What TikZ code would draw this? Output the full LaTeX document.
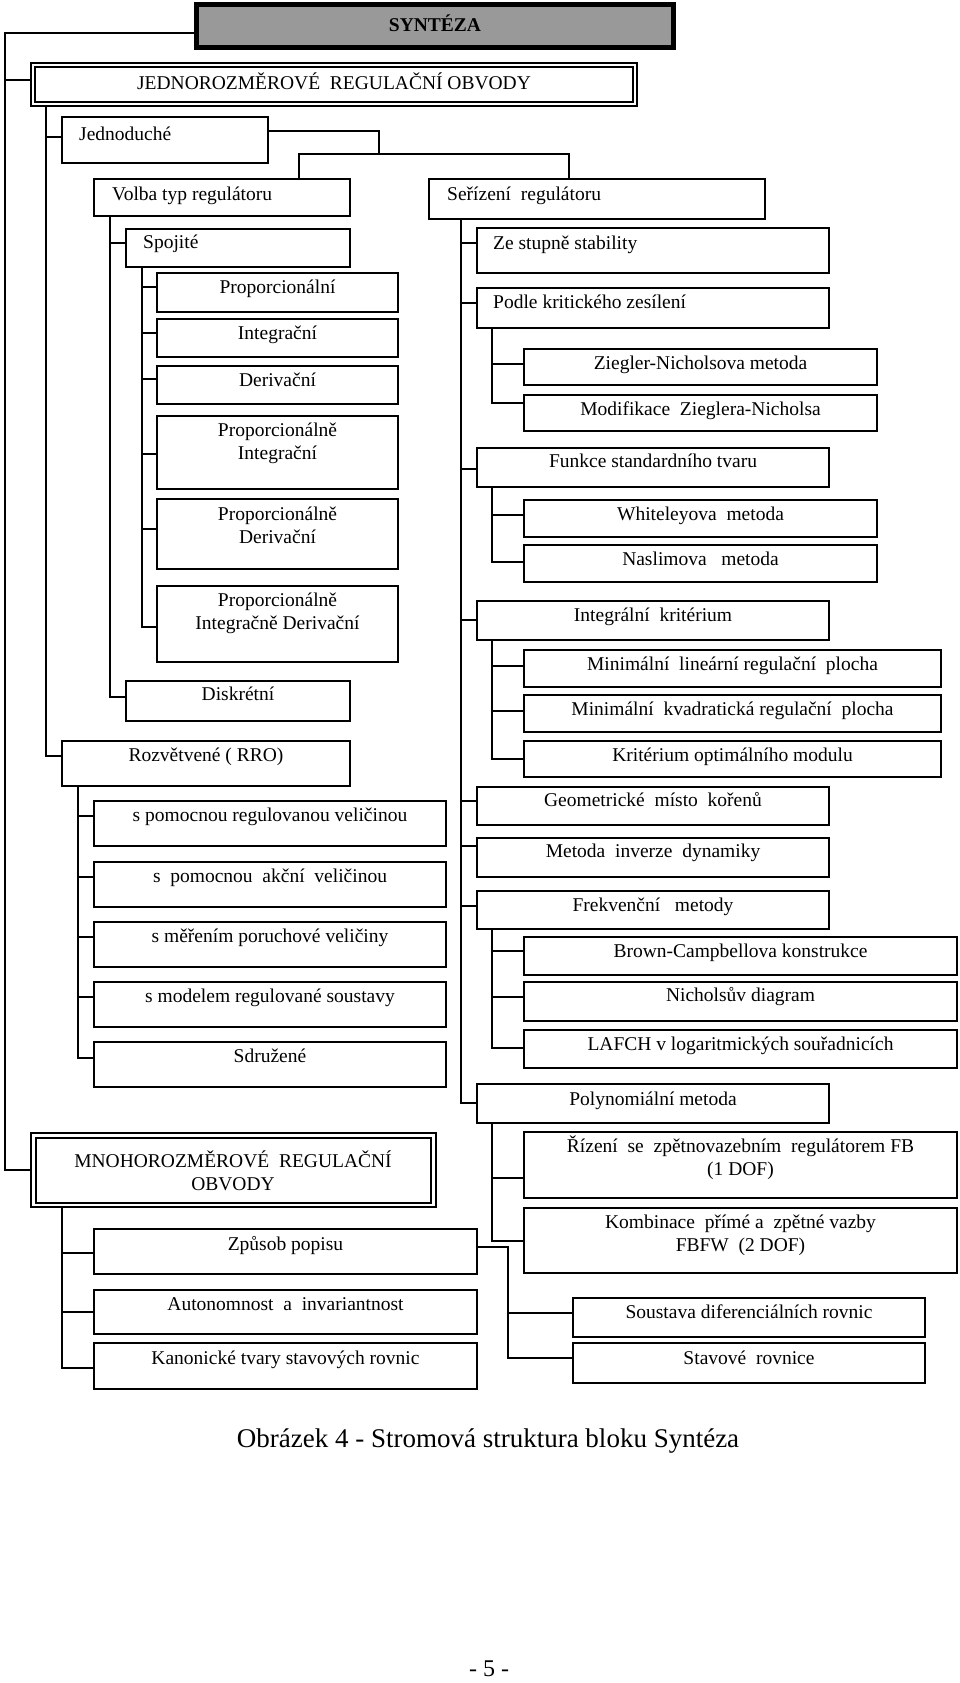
\documentclass[tikz,border=0pt]{standalone}
\usepackage{fontspec}
\setmainfont{Liberation Serif}
\definecolor{syntgray}{RGB}{153,153,153}
\pgfdeclarelayer{bg}
\pgfsetlayers{bg,main}
\tikzset{
  box/.style={draw, line width=2pt, fill=white, outer sep=0pt, inner sep=0pt},
  dbox/.style={draw, line width=2pt, double=white, double distance=2.6pt, outer sep=0pt, inner sep=0pt},
  sbox/.style={draw, line width=5pt, fill=syntgray, outer sep=0pt, inner sep=0pt},
  txt/.style={inner sep=0pt, font=\fontsize{19.5}{23}\selectfont},
  link/.style={line width=2pt},
}
% \bx[style]{name}{x1}{y1}{x2}{y2}{connector y}
\newcommand\bx[7][box]{%
  \pgfmathsetmacro\bxw{#5-#3}\pgfmathsetmacro\bxh{#6-#4}%
  \node[#1, minimum width=\bxw pt, minimum height=\bxh pt, anchor=north west] (#2) at (#3,#4) {};%
  \coordinate (#2-c) at (#3,#7);}
% \tx{name}{anchor}{x,y}{text}
\newcommand\tx[4]{\node[txt, anchor=#2] (#1) at (#3) {#4};}
\begin{document}
\begin{tikzpicture}[x=1pt,y=-1pt]
\useasboundingbox (0,0) rectangle (960,1683);

% ---------- top
\bx[sbox]{synt}{196.5}{4.5}{673.5}{47.5}{33}
\node[txt, font=\fontsize{19.5}{23}\selectfont\bfseries, anchor=base] (synt-t) at (435,31.5) {SYNTÉZA};
\bx[dbox]{jedno}{33}{65}{635}{104}{80}
\tx{jedno-t}{base}{334,90}{JEDNOROZMĚROVÉ\ \ REGULAČNÍ OBVODY}

% ---------- left column
\bx{jednod}{62}{117}{268}{163}{137}
\tx{jednod-t}{mid west}{79,138}{Jednoduché}
\bx{volba}{94}{179}{350}{216}{198}
\tx{volba-t}{mid west}{112,198}{Volba typ regulátoru}
\bx{spoj}{126}{229}{350}{267}{243}
\tx{spoj-t}{mid west}{143,246}{Spojité}
\bx{prop}{157}{273}{398}{312}{287}
\tx{prop-t}{mid}{277.5,291}{Proporcionální}
\bx{integ}{157}{319}{398}{357}{333}
\tx{integ-t}{mid}{277.5,337}{Integrační}
\bx{deriv}{157}{366}{398}{404}{379}
\tx{deriv-t}{mid}{277.5,384}{Derivační}
\bx{pi}{157}{416}{398}{489}{454}
\tx{pi-t1}{mid}{277.5,434}{Proporcionálně}
\tx{pi-t2}{mid}{277.5,457}{Integrační}
\bx{pd}{157}{499}{398}{569}{529}
\tx{pd-t1}{mid}{277.5,518}{Proporcionálně}
\tx{pd-t2}{mid}{277.5,541}{Derivační}
\bx{pid}{157}{586}{398}{662}{627}
\tx{pid-t1}{mid}{277.5,604}{Proporcionálně}
\tx{pid-t2}{mid}{277.5,627}{Integračně Derivační}
\bx{disk}{126}{681}{350}{721}{697}
\tx{disk-t}{mid}{238,698}{Diskrétní}
\bx{rozv}{62}{741}{350}{786}{756}
\tx{rozv-t}{mid}{206,759}{Rozvětvené ( RRO)}
\bx{srr}{94}{801}{446}{846}{816}
\tx{srr-t}{mid}{270,819}{s pomocnou regulovanou veličinou}
\bx{sak}{94}{862}{446}{907}{877}
\tx{sak-t}{mid}{270,880}{s\ \ pomocnou\ \ akční\ \ veličinou}
\bx{smp}{94}{922}{446}{967}{937}
\tx{smp-t}{mid}{270,940}{s měřením poruchové veličiny}
\bx{smr}{94}{982}{446}{1027}{997}
\tx{smr-t}{mid}{270,1000}{s modelem regulované soustavy}
\bx{sdr}{94}{1042}{446}{1087}{1058}
\tx{sdr-t}{mid}{270,1060}{Sdružené}

\bx[dbox]{mnoho}{33.25}{1135.5}{433.25}{1205}{1170}
\tx{mnoho-t1}{base}{233,1167}{MNOHOROZMĚROVÉ\ \ REGULAČNÍ}
\tx{mnoho-t2}{base}{233,1190}{OBVODY}
\bx{zp}{94}{1229}{477}{1274}{1253}
\tx{zp-t}{mid}{285.5,1248}{Způsob popisu}
\bx{aut}{94}{1290}{477}{1334}{1312}
\tx{aut-t}{mid}{285.5,1308}{Autonomnost\ \ a\ \ invariantnost}
\bx{kan}{94}{1343}{477}{1389}{1368}
\tx{kan-t}{mid}{285.5,1362}{Kanonické tvary stavových rovnic}
\bx{soust}{573}{1298}{925}{1337}{1313}
\tx{soust-t}{mid}{749,1316}{Soustava diferenciálních rovnic}
\bx{stav}{573}{1343}{925}{1383}{1358}
\tx{stav-t}{mid}{749,1362}{Stavové\ \ rovnice}

% ---------- right column
\bx{ser}{429}{179}{765}{219}{198}
\tx{ser-t}{mid west}{447,198}{Seřízení\ \ regulátoru}
\bx{zes}{477}{228}{829}{273}{243}
\tx{zes-t}{mid west}{493,247}{Ze stupně stability}
\bx{podle}{477}{288}{829}{328}{303}
\tx{podle-t}{mid west}{493,306}{Podle kritického zesílení}
\bx{zn}{524}{349}{877}{385}{364}
\tx{zn-t}{mid}{700.5,367}{Ziegler-Nicholsova metoda}
\bx{mzn}{524}{395}{877}{431}{403}
\tx{mzn-t}{mid}{700.5,413}{Modifikace\ \ Zieglera-Nicholsa}
\bx{funk}{477}{448}{829}{487}{469}
\tx{funk-t}{mid}{653,465}{Funkce standardního tvaru}
\bx{whit}{524}{500}{877}{537}{515}
\tx{whit-t}{mid}{700.5,518}{Whiteleyova\ \ metoda}
\bx{nasl}{524}{545}{877}{582}{562}
\tx{nasl-t}{mid}{700.5,563}{Naslimova\ \ \ metoda}
\bx{intk}{477}{601}{829}{640}{620}
\tx{intk-t}{mid}{653,619}{Integrální\ \ kritérium}
\bx{mlr}{524}{650}{941}{687}{666}
\tx{mlr-t}{mid}{732.5,668}{Minimální\ \ lineární regulační\ \ plocha}
\bx{mkr}{524}{695}{941}{732}{711}
\tx{mkr-t}{mid}{732.5,713}{Minimální\ \ kvadratická regulační\ \ plocha}
\bx{kom}{524}{741}{941}{777}{759}
\tx{kom-t}{mid}{732.5,759}{Kritérium optimálního modulu}
\bx{geo}{477}{787}{829}{825}{801}
\tx{geo-t}{mid}{653,804}{Geometrické\ \ místo\ \ kořenů}
\bx{mid}{477}{838}{829}{877}{846}
\tx{mid-t}{mid}{653,855}{Metoda\ \ inverze\ \ dynamiky}
\bx{frek}{477}{891}{829}{929}{906}
\tx{frek-t}{mid}{653,909}{Frekvenční\ \ \ metody}
\bx{brown}{524}{937}{957}{975}{951}
\tx{brown-t}{mid}{740.5,955}{Brown-Campbellova konstrukce}
\bx{nich}{524}{982}{957}{1021}{997}
\tx{nich-t}{mid}{740.5,999}{Nicholsův diagram}
\bx{lafch}{524}{1030}{957}{1068}{1048}
\tx{lafch-t}{mid}{740.5,1048}{LAFCH v logaritmických souřadnicích}
\bx{poly}{477}{1084}{829}{1123}{1103}
\tx{poly-t}{mid}{653,1103}{Polynomiální metoda}
\bx{fb}{524}{1132}{957}{1198}{1178}
\tx{fb-t1}{mid}{740.5,1150}{Řízení\ \ se\ \ zpětnovazebním\ \ regulátorem FB}
\tx{fb-t2}{mid}{740.5,1173}{(1 DOF)}
\bx{fbfw}{524}{1208}{957}{1273}{1241}
\tx{fbfw-t1}{mid}{740.5,1226}{Kombinace\ \ přímé a\ \ zpětné vazby}
\tx{fbfw-t2}{mid}{740.5,1249}{FBFW\ \ (2 DOF)}

% ---------- caption and page number
\node[inner sep=0pt, font=\fontsize{27}{32}\selectfont, anchor=base] (cap) at (488,1447) {Obrázek 4 - Stromová struktura bloku Syntéza};
\node[inner sep=0pt, font=\fontsize{24}{29}\selectfont, anchor=base] (pgno) at (489,1676) {- 5 -};

% ---------- helper coordinates
\coordinate (t0) at (5,0);
\coordinate (t1) at (46,0);
\coordinate (t2) at (110,0);
\coordinate (t3) at (142,0);
\coordinate (t4) at (78,0);
\coordinate (t5) at (62,0);
\coordinate (t6) at (508,0);
\coordinate (t7) at (461,0);
\coordinate (t8) at (492,0);
\coordinate (jednod-e) at (268,131);
\coordinate (j1) at (379,154);
\coordinate (volba-n) at (299,179);
\coordinate (ser-n) at (569,179);
\coordinate (zp-e) at (477,1247);

% ---------- connectors
\begin{pgfonlayer}{bg}
\draw[link] (synt-c) -| (t0 |- mnoho-c) -- (mnoho-c);
\draw[link] (t0 |- jedno-c) -- (jedno-c);
\draw[link] (t1 |- jedno.south) |- (rozv-c);
\draw[link] (t1 |- jednod-c) -- (jednod-c);
\draw[link] (jednod-e) -| (j1);
\draw[link] (volba-n) |- (j1 -| ser-n) -- (ser-n);
% Volba
\draw[link] (t2 |- volba.south) |- (disk-c);
\draw[link] (t2 |- spoj-c) -- (spoj-c);
% Spojite
\draw[link] (t3 |- spoj.south) |- (pid-c);
\foreach \n in {prop,integ,deriv,pi,pd} \draw[link] (t3 |- \n-c) -- (\n-c);
% Rozvetvene
\draw[link] (t4 |- rozv.south) |- (sdr-c);
\foreach \n in {srr,sak,smp,smr} \draw[link] (t4 |- \n-c) -- (\n-c);
% Mnoho
\draw[link] (t5 |- mnoho.south) |- (kan-c);
\foreach \n in {zp,aut} \draw[link] (t5 |- \n-c) -- (\n-c);
\draw[link] (zp-e) -| (t6 |- stav-c) -- (stav-c);
\draw[link] (t6 |- soust-c) -- (soust-c);
% Serizeni
\draw[link] (t7 |- ser.south) |- (poly-c);
\foreach \n in {zes,podle,funk,intk,geo,mid,frek} \draw[link] (t7 |- \n-c) -- (\n-c);
\draw[link] (t8 |- podle.south) |- (mzn-c);
\draw[link] (t8 |- zn-c) -- (zn-c);
\draw[link] (t8 |- funk.south) |- (nasl-c);
\draw[link] (t8 |- whit-c) -- (whit-c);
\draw[link] (t8 |- intk.south) |- (kom-c);
\foreach \n in {mlr,mkr} \draw[link] (t8 |- \n-c) -- (\n-c);
\draw[link] (t8 |- frek.south) |- (lafch-c);
\foreach \n in {brown,nich} \draw[link] (t8 |- \n-c) -- (\n-c);
\draw[link] (t8 |- poly.south) |- (fbfw-c);
\draw[link] (t8 |- fb-c) -- (fb-c);
\end{pgfonlayer}
\end{tikzpicture}
\end{document}
